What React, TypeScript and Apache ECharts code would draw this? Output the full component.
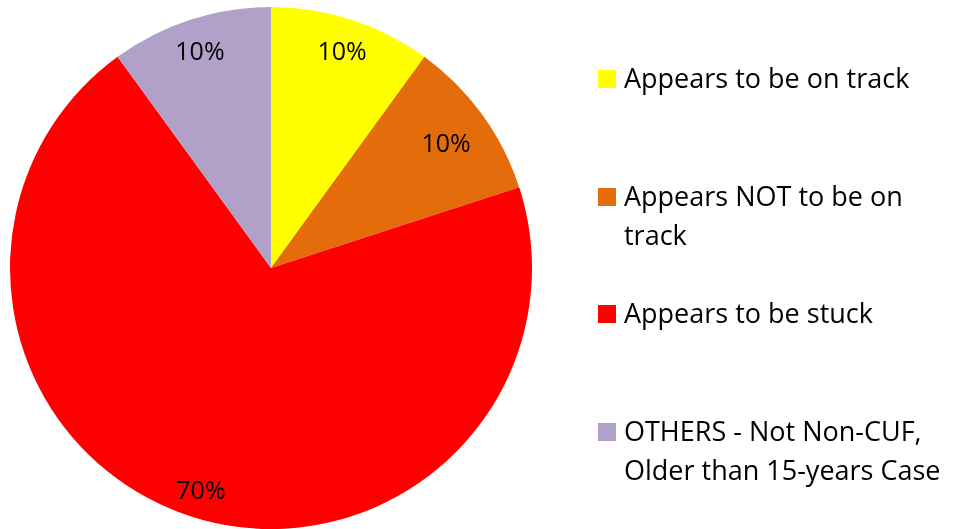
import React, { useEffect, useRef } from "react";
import * as echarts from "echarts";

const categories = [
  "Appears to be on track",
  "Appears NOT to be on track",
  "Appears to be stuck",
  "OTHERS - Not Non-CUF, Older than 15-years Case",
];
const legendLines = [
  ["Appears to be on track"],
  ["Appears NOT to be on", "track"],
  ["Appears to be stuck"],
  ["OTHERS - Not Non-CUF,", "Older than 15-years Case"],
];
const values = [10, 10, 70, 10];
const colors = ["#FFFF00", "#E46C0A", "#FF0000", "#B1A0C7"];
const legendTops = [70, 188, 305, 423];
// small per-label nudges (px) to mimic the original label placement
const labelNudges = [
  [0, 1],
  [-11, 9],
  [1, 2],
  [0, 1],
];

const FONT = "Open Sans";
const LFS = 27;
const LINE_H = 39.5;

export default function App() {
  const ref = useRef<HTMLDivElement>(null);
  useEffect(() => {
    if (!ref.current) return;
    const chart = echarts.init(ref.current, undefined, { renderer: "svg" });
    const data = categories.map((name, i) => ({
      name,
      value: values[i],
      itemStyle: { color: colors[i] },
    }));
    const legends = categories.map((name, i) => ({
      orient: "vertical",
      left: 598,
      top: legendTops[i],
      padding: 0,
      itemWidth: 18,
      itemHeight: 18,
      icon: "rect",
      selectedMode: false,
      data: [name],
      formatter: () => "",
      textStyle: { fontSize: 1 },
    }));
    const graphics: any[] = [];
    legendLines.forEach((lines, i) => {
      lines.forEach((t, j) => {
        graphics.push({
          type: "text",
          x: 624,
          y: legendTops[i] + 9 + j * LINE_H - 2,
          style: {
            text: t,
            fontFamily: FONT,
            fontSize: LFS,
            fill: "#000",
            verticalAlign: "middle",
          },
        });
      });
    });
    chart.setOption({
      animation: false,
      legend: legends,
      graphic: graphics,
      series: [
        {
          type: "pie",
          center: [271, 268],
          radius: [0, 261],
          startAngle: 90,
          clockwise: true,
          data,
          label: { show: false },
          labelLine: { show: false },
          itemStyle: { borderWidth: 0 },
          silent: true,
        },
        {
          type: "pie",
          center: [271, 268],
          radius: [193, 261],
          startAngle: 90,
          clockwise: true,
          silent: true,
          data: data.map((d) => ({ ...d, itemStyle: { color: "rgba(0,0,0,0)" } })),
          label: {
            show: true,
            position: "inside",
            formatter: "{d}%",
            fontFamily: FONT,
            fontSize: 25,
            color: "#000",
          },
          labelLayout: (p: any) => ({
            dx: labelNudges[p.dataIndex][0],
            dy: labelNudges[p.dataIndex][1],
          }),
          labelLine: { show: false },
          legendHoverLink: false,
        },
      ],
    });
    return () => chart.dispose();
  }, []);
  return (
    <div
      ref={ref}
      style={{ position: "fixed", left: 0, top: 0, width: 954, height: 529 }}
    />
  );
}
